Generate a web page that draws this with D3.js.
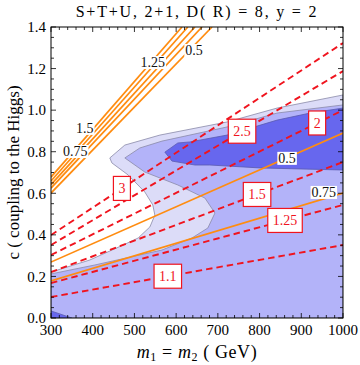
<!DOCTYPE html>
<html>
<head>
<meta charset="utf-8">
<script src="https://cdn.jsdelivr.net/npm/d3@7"></script>
<style>
  body { margin: 0; background: #fff; }
  svg text { font-family: "Liberation Serif", "DejaVu Serif", serif; }
</style>
</head>
<body>
<div id="chart"></div>
<script>
// contour boundaries, as [m (GeV), c]
var outerContour = [[300,0.221],[393,0.279],[473,0.351],[509,0.385],[537,0.438],[549,0.495],[544,0.544],
  [525,0.606],[485,0.688],[446,0.746],[441,0.770],[477,0.832],[561,0.880],[722,0.943],[842,1.010],[1000,1.073]];
var middleContour = [[300,0.212],[405,0.255],[566,0.327],[638,0.385],[676,0.433],[693,0.505],[669,0.577],
  [604,0.640],[525,0.702],[477,0.770],[513,0.818],[566,0.851],[722,0.919],[842,0.986],[1000,1.025]];
var darkBand = [[573,0.798],[604,0.842],[633,0.847],[722,0.880],[842,0.952],[921,0.986],[1000,1.010],
  [1000,0.712],[801,0.722],[681,0.736],[645,0.736],[590,0.755]];
var darkCorner = [[300,0],[300,0.034],[350,0]];

// steep orange bundle: c at m = 300, m at c = 1.4
var steepLeftC = [0.678, 0.659, 0.642, 0.625, 0.601];
var steepTopM = [614, 628, 645, 662, 686];
// lower orange lines: c at m = 300 and m = 1000
var orangeLeftC = [0.269, 0.178];
var orangeRightC = [0.890, 0.601];
var orangeLabels = [[381,0.914,"1.5"],[358,0.803,"0.75"],[544,1.231,"1.25"],[643,1.289,"0.5"],
  [866,0.770,"0.5"],[954,0.606,"0.75"]];

// red dashed lines: c at m = 300 and m = 1000
var redLeftC = [0.399, 0.351, 0.303, 0.221, 0.168, 0.101];
var redRightC = [1.323, 1.188, 1.000, 0.750, 0.544, 0.351];
var redLabels = ["3", "2.5", "2", "1.5", "1.25", "1.1"];
var redLabelM = [470, 758, 938, 794, 861, 580];

var xTicks = [300, 400, 500, 600, 700, 800, 900, 1000];
var yTicks = [0, 0.2, 0.4, 0.6, 0.8, 1.0, 1.2, 1.4];

var W = 360, H = 365;
var padL = 51, padR = 343, padT = 27, padB = 318;

var x = d3.scaleLinear().domain([300, 1000]).range([padL, padR]);
var y = d3.scaleLinear().domain([0, 1.4]).range([padB, padT]);

var svg = d3.select("#chart").append("svg").attr("width", W).attr("height", H);

svg.append("clipPath").attr("id", "clip").append("rect")
  .attr("x", padL).attr("y", padT).attr("width", padR - padL).attr("height", padB - padT);

var plot = svg.append("g").attr("clip-path", "url(#clip)");

var line = d3.line().x(function(d) { return x(d[0]); }).y(function(d) { return y(d[1]); });

function closeDown(pts) {
  // close a boundary running left to right down to the bottom edge
  return pts.concat([[1000, 0], [300, 0]]);
}

plot.append("path").attr("d", line(closeDown(outerContour)) + "Z")
  .attr("fill", "#dcdcf8").attr("stroke", "#8a8aa8").attr("stroke-width", 0.8);
plot.append("path").attr("d", line(closeDown(middleContour)) + "Z")
  .attr("fill", "#b3b3f9").attr("stroke", "#8a8aa8").attr("stroke-width", 0.8);
plot.append("path").attr("d", line(darkBand) + "Z")
  .attr("fill", "#6767ee").attr("stroke", "#5a5ab0").attr("stroke-width", 0.8);
plot.append("path").attr("d", line(darkCorner) + "Z")
  .attr("fill", "#6767ee").attr("stroke", "#5a5ab0").attr("stroke-width", 0.8);

var orange = "#ff8c10";
steepLeftC.forEach(function(c, i) {
  plot.append("path").attr("d", line([[300, c], [steepTopM[i], 1.4]]))
    .attr("fill", "none").attr("stroke", orange).attr("stroke-width", 1.7);
});
orangeLeftC.forEach(function(c, i) {
  plot.append("path").attr("d", line([[300, c], [1000, orangeRightC[i]]]))
    .attr("fill", "none").attr("stroke", orange).attr("stroke-width", 1.7);
});

redLeftC.forEach(function(c, i) {
  plot.append("path").attr("d", line([[300, c], [1000, redRightC[i]]]))
    .attr("fill", "none").attr("stroke", "#f0141e").attr("stroke-width", 1.9)
    .attr("stroke-dasharray", "6.5,4");
});

// orange contour labels: white patch, black text
orangeLabels.forEach(function(d) {
  var g = plot.append("g").attr("transform", "translate(" + x(d[0]) + "," + y(d[1]) + ")");
  var t = g.append("text").attr("text-anchor", "middle").attr("dy", "0.35em")
    .attr("font-size", 14).attr("fill", "#111").text(d[2]);
  var b = t.node().getBBox();
  g.insert("rect", "text").attr("x", b.x - 1).attr("y", b.y + 1).attr("width", b.width + 2)
    .attr("height", b.height - 2).attr("fill", "#fff");
});

// red line labels: boxed
redLabels.forEach(function(s, i) {
  var m = redLabelM[i];
  var c = redLeftC[i] + (redRightC[i] - redLeftC[i]) * (m - 300) / 700;
  var g = svg.append("g").attr("transform", "translate(" + x(m) + "," + y(c) + ")");
  var t = g.append("text").attr("text-anchor", "middle").attr("dy", "0.35em")
    .attr("font-size", 14).attr("fill", "#f0141e").text(s);
  var w = t.node().getBBox().width + 10;
  g.insert("rect", "text").attr("x", -w / 2).attr("y", -12).attr("width", w).attr("height", 24)
    .attr("fill", "#fff").attr("stroke", "#f0141e").attr("stroke-width", 1.2);
});

// frame with inward ticks on all sides
svg.append("rect").attr("x", padL).attr("y", padT).attr("width", padR - padL).attr("height", padB - padT)
  .attr("fill", "none").attr("stroke", "#000").attr("stroke-width", 1);

var ticks = svg.append("g").attr("stroke", "#000").attr("stroke-width", 0.8);
d3.range(300, 1001, 20).forEach(function(v) {
  var len = (v % 100 === 0) ? 5 : 3;
  ticks.append("line").attr("x1", x(v)).attr("x2", x(v)).attr("y1", padB).attr("y2", padB - len);
  ticks.append("line").attr("x1", x(v)).attr("x2", x(v)).attr("y1", padT).attr("y2", padT + len);
});
d3.range(0, 29).forEach(function(k) {
  var v = k * 0.05;
  var len = (k % 4 === 0) ? 5 : 3;
  ticks.append("line").attr("y1", y(v)).attr("y2", y(v)).attr("x1", padL).attr("x2", padL + len);
  ticks.append("line").attr("y1", y(v)).attr("y2", y(v)).attr("x1", padR).attr("x2", padR - len);
});

svg.selectAll(".xlab").data(xTicks).enter().append("text")
  .attr("x", function(d) { return x(d); }).attr("y", padB + 17)
  .attr("text-anchor", "middle").attr("font-size", 15).text(function(d) { return d; });
svg.selectAll(".ylab").data(yTicks).enter().append("text")
  .attr("x", padL - 5).attr("y", function(d) { return y(d); }).attr("dy", "0.35em")
  .attr("text-anchor", "end").attr("font-size", 15).text(function(d) { return d.toFixed(1); });

svg.append("text").attr("x", 197).attr("y", 17).attr("text-anchor", "middle")
  .attr("font-size", 16).attr("letter-spacing", 1.8).text("S+T+U, 2+1, D( R) = 8, y = 2");

var xl = svg.append("text").attr("x", 197).attr("y", 358).attr("text-anchor", "middle")
  .attr("font-size", 18).attr("letter-spacing", 0.6);
xl.append("tspan").attr("font-style", "italic").text("m");
xl.append("tspan").attr("font-size", 12).attr("dy", 3).text("1");
xl.append("tspan").attr("dy", -3).text(" = ");
xl.append("tspan").attr("font-style", "italic").text("m");
xl.append("tspan").attr("font-size", 12).attr("dy", 3).text("2");
xl.append("tspan").attr("dy", -3).text(" ( GeV)");

svg.append("text").attr("transform", "translate(19," + ((padT + padB) / 2) + ") rotate(-90)")
  .attr("text-anchor", "middle").attr("font-size", 17).text("c ( coupling to the Higgs)");
</script>
</body>
</html>
